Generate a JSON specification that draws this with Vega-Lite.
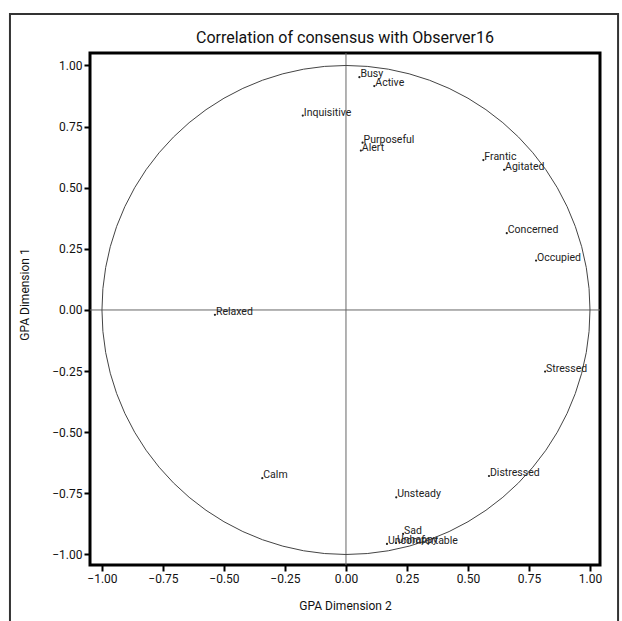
{
  "$schema": "https://vega.github.io/schema/vega-lite/v6.json",
  "width": 510,
  "height": 512,
  "autosize": "none",
  "padding": {"left": 90, "top": 53, "right": 22, "bottom": 56},
  "background": "white",
  "title": {
    "text": "Correlation of consensus with Observer16",
    "font": "Roboto, Liberation Sans, sans-serif",
    "fontSize": 16,
    "fontWeight": "normal",
    "color": "#111",
    "offset": -33
  },
  "config": {
    "view": {"stroke": "black", "strokeWidth": 3},
    "axis": {
      "grid": false,
      "domain": false,
      "ticks": true,
      "tickSize": 6,
      "tickWidth": 2,
      "tickColor": "black",
      "labelFont": "Roboto, Liberation Sans, sans-serif",
      "labelFontSize": 12,
      "labelColor": "#111",
      "labelPadding": 2,
      "titleFont": "Roboto, Liberation Sans, sans-serif",
      "titleFontSize": 12,
      "titleFontWeight": "normal",
      "titleColor": "#111"
    }
  },
  "datasets": {
    "labels": [
      {"label": "Busy", "x": 0.055, "y": 0.952},
      {"label": "Active", "x": 0.116, "y": 0.916},
      {"label": "Inquisitive", "x": -0.177, "y": 0.795},
      {"label": "Purposeful", "x": 0.068, "y": 0.684},
      {"label": "Alert", "x": 0.061, "y": 0.652},
      {"label": "Frantic", "x": 0.563, "y": 0.613},
      {"label": "Agitated", "x": 0.648, "y": 0.573},
      {"label": "Concerned", "x": 0.659, "y": 0.314},
      {"label": "Occupied", "x": 0.779, "y": 0.202},
      {"label": "Relaxed", "x": -0.537, "y": -0.02},
      {"label": "Stressed", "x": 0.816, "y": -0.252},
      {"label": "Calm", "x": -0.343, "y": -0.688},
      {"label": "Distressed", "x": 0.586, "y": -0.679},
      {"label": "Unsteady", "x": 0.206, "y": -0.766},
      {"label": "Sad", "x": 0.234, "y": -0.916},
      {"label": "Unhappy", "x": 0.205, "y": -0.953},
      {"label": "Uncomfortable", "x": 0.168, "y": -0.957}
    ],
    "circle": [
      {"i": 0, "x": 1, "y": 0},
      {"i": 1, "x": 0.9962, "y": 0.0872},
      {"i": 2, "x": 0.9848, "y": 0.1736},
      {"i": 3, "x": 0.9659, "y": 0.2588},
      {"i": 4, "x": 0.9397, "y": 0.342},
      {"i": 5, "x": 0.9063, "y": 0.4226},
      {"i": 6, "x": 0.866, "y": 0.5},
      {"i": 7, "x": 0.8192, "y": 0.5736},
      {"i": 8, "x": 0.766, "y": 0.6428},
      {"i": 9, "x": 0.7071, "y": 0.7071},
      {"i": 10, "x": 0.6428, "y": 0.766},
      {"i": 11, "x": 0.5736, "y": 0.8192},
      {"i": 12, "x": 0.5, "y": 0.866},
      {"i": 13, "x": 0.4226, "y": 0.9063},
      {"i": 14, "x": 0.342, "y": 0.9397},
      {"i": 15, "x": 0.2588, "y": 0.9659},
      {"i": 16, "x": 0.1736, "y": 0.9848},
      {"i": 17, "x": 0.0872, "y": 0.9962},
      {"i": 18, "x": 0, "y": 1},
      {"i": 19, "x": -0.0872, "y": 0.9962},
      {"i": 20, "x": -0.1736, "y": 0.9848},
      {"i": 21, "x": -0.2588, "y": 0.9659},
      {"i": 22, "x": -0.342, "y": 0.9397},
      {"i": 23, "x": -0.4226, "y": 0.9063},
      {"i": 24, "x": -0.5, "y": 0.866},
      {"i": 25, "x": -0.5736, "y": 0.8192},
      {"i": 26, "x": -0.6428, "y": 0.766},
      {"i": 27, "x": -0.7071, "y": 0.7071},
      {"i": 28, "x": -0.766, "y": 0.6428},
      {"i": 29, "x": -0.8192, "y": 0.5736},
      {"i": 30, "x": -0.866, "y": 0.5},
      {"i": 31, "x": -0.9063, "y": 0.4226},
      {"i": 32, "x": -0.9397, "y": 0.342},
      {"i": 33, "x": -0.9659, "y": 0.2588},
      {"i": 34, "x": -0.9848, "y": 0.1736},
      {"i": 35, "x": -0.9962, "y": 0.0872},
      {"i": 36, "x": -1, "y": 0},
      {"i": 37, "x": -0.9962, "y": -0.0872},
      {"i": 38, "x": -0.9848, "y": -0.1736},
      {"i": 39, "x": -0.9659, "y": -0.2588},
      {"i": 40, "x": -0.9397, "y": -0.342},
      {"i": 41, "x": -0.9063, "y": -0.4226},
      {"i": 42, "x": -0.866, "y": -0.5},
      {"i": 43, "x": -0.8192, "y": -0.5736},
      {"i": 44, "x": -0.766, "y": -0.6428},
      {"i": 45, "x": -0.7071, "y": -0.7071},
      {"i": 46, "x": -0.6428, "y": -0.766},
      {"i": 47, "x": -0.5736, "y": -0.8192},
      {"i": 48, "x": -0.5, "y": -0.866},
      {"i": 49, "x": -0.4226, "y": -0.9063},
      {"i": 50, "x": -0.342, "y": -0.9397},
      {"i": 51, "x": -0.2588, "y": -0.9659},
      {"i": 52, "x": -0.1736, "y": -0.9848},
      {"i": 53, "x": -0.0872, "y": -0.9962},
      {"i": 54, "x": 0, "y": -1},
      {"i": 55, "x": 0.0872, "y": -0.9962},
      {"i": 56, "x": 0.1736, "y": -0.9848},
      {"i": 57, "x": 0.2588, "y": -0.9659},
      {"i": 58, "x": 0.342, "y": -0.9397},
      {"i": 59, "x": 0.4226, "y": -0.9063},
      {"i": 60, "x": 0.5, "y": -0.866},
      {"i": 61, "x": 0.5736, "y": -0.8192},
      {"i": 62, "x": 0.6428, "y": -0.766},
      {"i": 63, "x": 0.7071, "y": -0.7071},
      {"i": 64, "x": 0.766, "y": -0.6428},
      {"i": 65, "x": 0.8192, "y": -0.5736},
      {"i": 66, "x": 0.866, "y": -0.5},
      {"i": 67, "x": 0.9063, "y": -0.4226},
      {"i": 68, "x": 0.9397, "y": -0.342},
      {"i": 69, "x": 0.9659, "y": -0.2588},
      {"i": 70, "x": 0.9848, "y": -0.1736},
      {"i": 71, "x": 0.9962, "y": -0.0872},
      {"i": 72, "x": 1, "y": 0}
    ]
  },
  "layer": [
    {
      "data": {"values": [{}]},
      "mark": {"type": "rect", "filled": false, "stroke": "#333", "strokeWidth": 2, "clip": false},
      "encoding": {
        "x": {"datum": -1.377, "type": "quantitative", "scale": {"domain": [-1.049, 1.041], "nice": false, "zero": false}},
        "x2": {"datum": 1.115},
        "y": {"datum": 1.211, "type": "quantitative", "scale": {"domain": [-1.043, 1.051], "nice": false, "zero": false}},
        "y2": {"datum": -1.35}
      }
    },
    {
      "data": {"values": [{}]},
      "mark": {"type": "rule", "color": "#666", "strokeWidth": 1},
      "encoding": {"x": {"datum": 0, "type": "quantitative"}}
    },
    {
      "data": {"values": [{}]},
      "mark": {"type": "rule", "color": "#666", "strokeWidth": 1},
      "encoding": {"y": {"datum": 0, "type": "quantitative"}}
    },
    {
      "data": {"name": "circle"},
      "mark": {"type": "line", "color": "#444", "strokeWidth": 1},
      "encoding": {
        "x": {"field": "x", "type": "quantitative"},
        "y": {"field": "y", "type": "quantitative"},
        "order": {"field": "i", "type": "quantitative"}
      }
    },
    {
      "data": {"name": "labels"},
      "mark": {"type": "point", "filled": true, "size": 5, "color": "#222", "opacity": 1},
      "encoding": {
        "x": {"field": "x", "type": "quantitative"},
        "y": {"field": "y", "type": "quantitative"}
      }
    },
    {
      "data": {"name": "labels"},
      "mark": {"type": "text", "align": "left", "baseline": "alphabetic", "dx": 1, "dy": 0, "fontSize": 10.5, "font": "Roboto, Liberation Sans, sans-serif", "color": "#222"},
      "encoding": {
        "x": {
          "field": "x", "type": "quantitative",
          "axis": {"values": [-1, -0.75, -0.5, -0.25, 0, 0.25, 0.5, 0.75, 1], "format": ".2f", "title": "GPA Dimension 2", "titleY": 40, "titleBaseline": "middle"}
        },
        "y": {
          "field": "y", "type": "quantitative",
          "axis": {"values": [-1, -0.75, -0.5, -0.25, 0, 0.25, 0.5, 0.75, 1], "format": ".2f", "title": "GPA Dimension 1", "titleX": -66, "titleY": 241, "titleAngle": -90, "titleBaseline": "middle"}
        },
        "text": {"field": "label", "type": "nominal"}
      }
    }
  ]
}
